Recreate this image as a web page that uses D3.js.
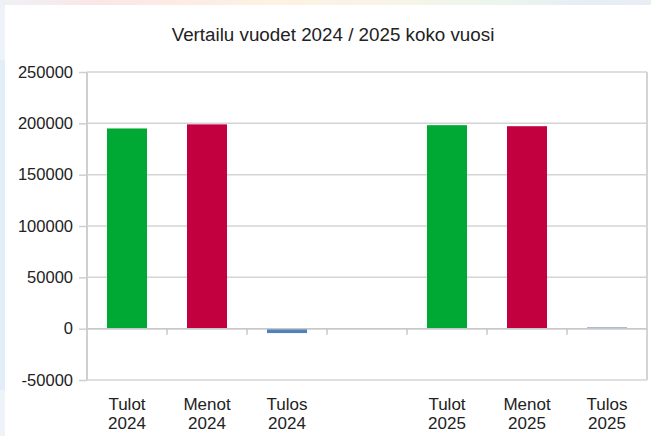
<!DOCTYPE html>
<html>
<head>
  <meta charset="utf-8">
  <title>Vertailu vuodet 2024 / 2025</title>
  <script src="https://d3js.org/d3.v7.min.js"></script>
  <style>
    body { margin: 0; background: #fff; }
    svg { display: block; font-family: "Liberation Sans", Arial, sans-serif; }
  </style>
</head>
<body>
  <svg id="chart"></svg>

  <script>
    // data
    const categories = ["Tulot 2024", "Menot 2024", "Tulos 2024", "", "Tulot 2025", "Menot 2025", "Tulos 2025"];
    const values = [195000, 199000, -4300, null, 198200, 197200, 1300];
    const barColors = ["#00a933", "#c3003f", "#4f81bd", "none", "#00a933", "#c3003f", "#7b9fcb"];
    const yTicks = [-50000, 0, 50000, 100000, 150000, 200000, 250000];
    const title = "Vertailu vuodet 2024 / 2025 koko vuosi";

    const width = 651;
    const height = 436;
    const margin = { top: 72, right: 4, bottom: 56, left: 87 };
    const fontFam = "'Liberation Sans', Arial, sans-serif";

    const svg = d3.select("#chart")
      .attr("width", width)
      .attr("height", height);

    // page backdrop behind the white panel
    const defs = svg.append("defs");
    const grad = defs.append("linearGradient").attr("id", "topstrip");
    [["0%", "#eef1f6"], ["15%", "#fbe6e6"], ["40%", "#fdf1e3"], ["60%", "#f8f4e6"], ["75%", "#edf6ec"], ["90%", "#e7edf5"], ["100%", "#e9eef5"]]
      .forEach(s => grad.append("stop").attr("offset", s[0]).attr("stop-color", s[1]));
    svg.append("rect").attr("width", width).attr("height", height).attr("fill", "#eef3f9");
    svg.append("rect").attr("width", width).attr("height", 5).attr("fill", "url(#topstrip)");
    svg.append("rect").attr("x", 0).attr("y", 60).attr("width", 5).attr("height", 330).attr("fill", "#e2edf9");
    svg.append("rect").attr("x", 5).attr("y", 5).attr("width", width).attr("height", height).attr("fill", "#fff");

    const x = d3.scaleBand()
      .domain(d3.range(categories.length))
      .range([margin.left, width - margin.right])
      .padding(0);

    const y = d3.scaleLinear()
      .domain([-50000, 250000])
      .range([height - margin.bottom, margin.top]);

    // title
    svg.append("text")
      .attr("x", 333)
      .attr("y", 41)
      .attr("text-anchor", "middle")
      .attr("font-family", fontFam)
      .attr("font-size", "18.8px")
      .attr("fill", "#222")
      .text(title);

    // horizontal grid + y axis
    const yAxis = svg.append("g")
      .attr("transform", `translate(${margin.left},0)`)
      .call(d3.axisLeft(y).tickValues(yTicks).tickFormat(d => String(d)).tickSize(8).tickPadding(6))
      .attr("font-family", fontFam);
    yAxis.select(".domain").remove();
    yAxis.selectAll(".tick line").attr("stroke", "#cfcfcf").attr("stroke-width", 1.5);
    yAxis.selectAll(".tick text").attr("font-size", "16.5px").attr("fill", "#222");

    svg.append("g")
      .selectAll("line")
      .data(yTicks)
      .join("line")
      .attr("x1", margin.left)
      .attr("x2", width - margin.right)
      .attr("y1", d => y(d))
      .attr("y2", d => y(d))
      .attr("stroke", "#d4d4d4")
      .attr("stroke-width", 1.5);

    // plot frame sides
    svg.append("line")
      .attr("x1", margin.left).attr("x2", margin.left)
      .attr("y1", y(250000)).attr("y2", y(-50000))
      .attr("stroke", "#cfcfcf").attr("stroke-width", 2);
    svg.append("line")
      .attr("x1", width - margin.right).attr("x2", width - margin.right)
      .attr("y1", y(250000)).attr("y2", y(-50000))
      .attr("stroke", "#d4d4d4").attr("stroke-width", 2);

    // bars
    const barW = x.bandwidth() * 0.5;
    svg.append("g")
      .selectAll("rect")
      .data(values.map((v, i) => ({ v, i })).filter(d => d.v !== null))
      .join("rect")
      .attr("x", d => x(d.i) + (x.bandwidth() - barW) / 2)
      .attr("width", barW)
      .attr("y", d => y(Math.max(0, d.v)))
      .attr("height", d => Math.abs(y(d.v) - y(0)))
      .attr("fill", d => barColors[d.i]);

    // zero line with category ticks
    svg.append("line")
      .attr("x1", margin.left).attr("x2", width - margin.right)
      .attr("y1", y(0)).attr("y2", y(0))
      .attr("stroke", "#c8c8c8").attr("stroke-width", 1.5);
    svg.append("g")
      .selectAll("line")
      .data(d3.range(1, categories.length))
      .join("line")
      .attr("x1", d => x(d)).attr("x2", d => x(d))
      .attr("y1", y(0)).attr("y2", y(0) + 6)
      .attr("stroke", "#c8c8c8").attr("stroke-width", 1.5);

    // category labels, two lines each
    const labels = svg.append("g")
      .selectAll("text")
      .data(categories.map((c, i) => ({ c, i })).filter(d => d.c !== ""))
      .join("text")
      .attr("text-anchor", "middle")
      .attr("font-family", fontFam)
      .attr("font-size", "17px")
      .attr("fill", "#222");
    labels.append("tspan")
      .attr("x", d => x(d.i) + x.bandwidth() / 2)
      .attr("y", 410)
      .text(d => d.c.split(" ")[0]);
    labels.append("tspan")
      .attr("x", d => x(d.i) + x.bandwidth() / 2)
      .attr("y", 429)
      .text(d => d.c.split(" ")[1]);
  </script>
</body>
</html>
